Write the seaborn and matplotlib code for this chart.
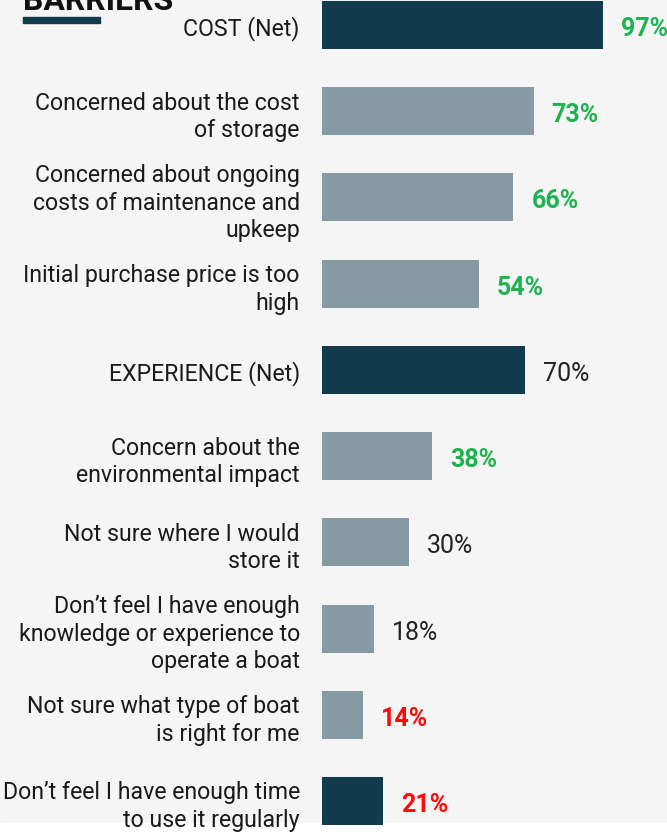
import matplotlib
matplotlib.use("Agg")
import matplotlib.pyplot as plt
import seaborn as sns
import pandas as pd

labels = [
    "COST (Net)",
    "Concerned about the cost\nof storage",
    "Concerned about ongoing\ncosts of maintenance and\nupkeep",
    "Initial purchase price is too\nhigh",
    "EXPERIENCE (Net)",
    "Concern about the\nenvironmental impact",
    "Not sure where I would\nstore it",
    "Don\u2019t feel I have enough\nknowledge or experience to\noperate a boat",
    "Not sure what type of boat\nis right for me",
    "Don\u2019t feel I have enough time\nto use it regularly",
]
values = [97, 73, 66, 54, 70, 38, 30, 18, 14, 21]
bar_kind = ["net", "sub", "sub", "sub", "net", "sub", "sub", "sub", "sub", "net"]
value_style = ["green", "green", "green", "green", "plain", "green", "plain", "plain", "red", "red"]

BG = "#f5f5f5"
DARK = "#123b4e"
LIGHT = "#869aa4"
kind_color = {"net": DARK, "sub": LIGHT}
txt_color = {"green": "#1db350", "red": "#ff0a0a", "plain": "#222222"}
txt_weight = {"green": "bold", "red": "bold", "plain": "normal"}

sns.set_theme(style="white")
plt.rcParams["font.family"] = ["Roboto", "DejaVu Sans"]

W, H = 667, 837
fig = plt.figure(figsize=(W / 100, H / 100), dpi=100, facecolor=BG)
# white strip at the very bottom
fig.add_artist(plt.Rectangle((0, 0), 1, 13 / H, transform=fig.transFigure,
                             color="white", zorder=-5))
ax = fig.add_axes([322 / W, 0, 345 / W, 1])
ax.set_facecolor("none")

df = pd.DataFrame({"label": labels, "value": values})
palette = {l: kind_color[k] for l, k in zip(labels, bar_kind)}
sns.barplot(data=df, x="value", y="label", hue="label", palette=palette,
            legend=False, width=0.557, orient="h", ax=ax, saturation=1,
            linewidth=0)

px_per_unit = 86.22
ax.set_ylim(9 + (H - 802) / px_per_unit, -26 / px_per_unit)
ax.set_xlim(0, 345 / 2.9)

ax.set_xlabel("")
ax.set_ylabel("")
ax.set_xticks([])
ax.tick_params(axis="y", length=0, pad=16)
ax.set_yticks(range(len(labels)))
ax.set_yticklabels(labels, fontsize=16.7, color="#1a1a1a", ha="right",
                   linespacing=1.25)
for s in ax.spines.values():
    s.set_visible(False)

for i, (v, st) in enumerate(zip(values, value_style)):
    ax.annotate(f"{v}%", xy=(v, i), xytext=(18, -3), textcoords="offset pixels",
                va="center", ha="left", fontsize=18, color=txt_color[st],
                fontweight=txt_weight[st], annotation_clip=False)

# Title (cut off at the top, as in the source) and underline
fig.text(23 / W, 1 - 10 / H, "BARRIERS", fontsize=23, fontweight="bold",
         color="#111111", ha="left", va="baseline")
fig.add_artist(plt.Rectangle((23 / W, 1 - 24 / H), 77 / W, 6 / H,
                             transform=fig.transFigure, color=DARK))

fig.savefig("out.png", dpi=100, facecolor=BG)
